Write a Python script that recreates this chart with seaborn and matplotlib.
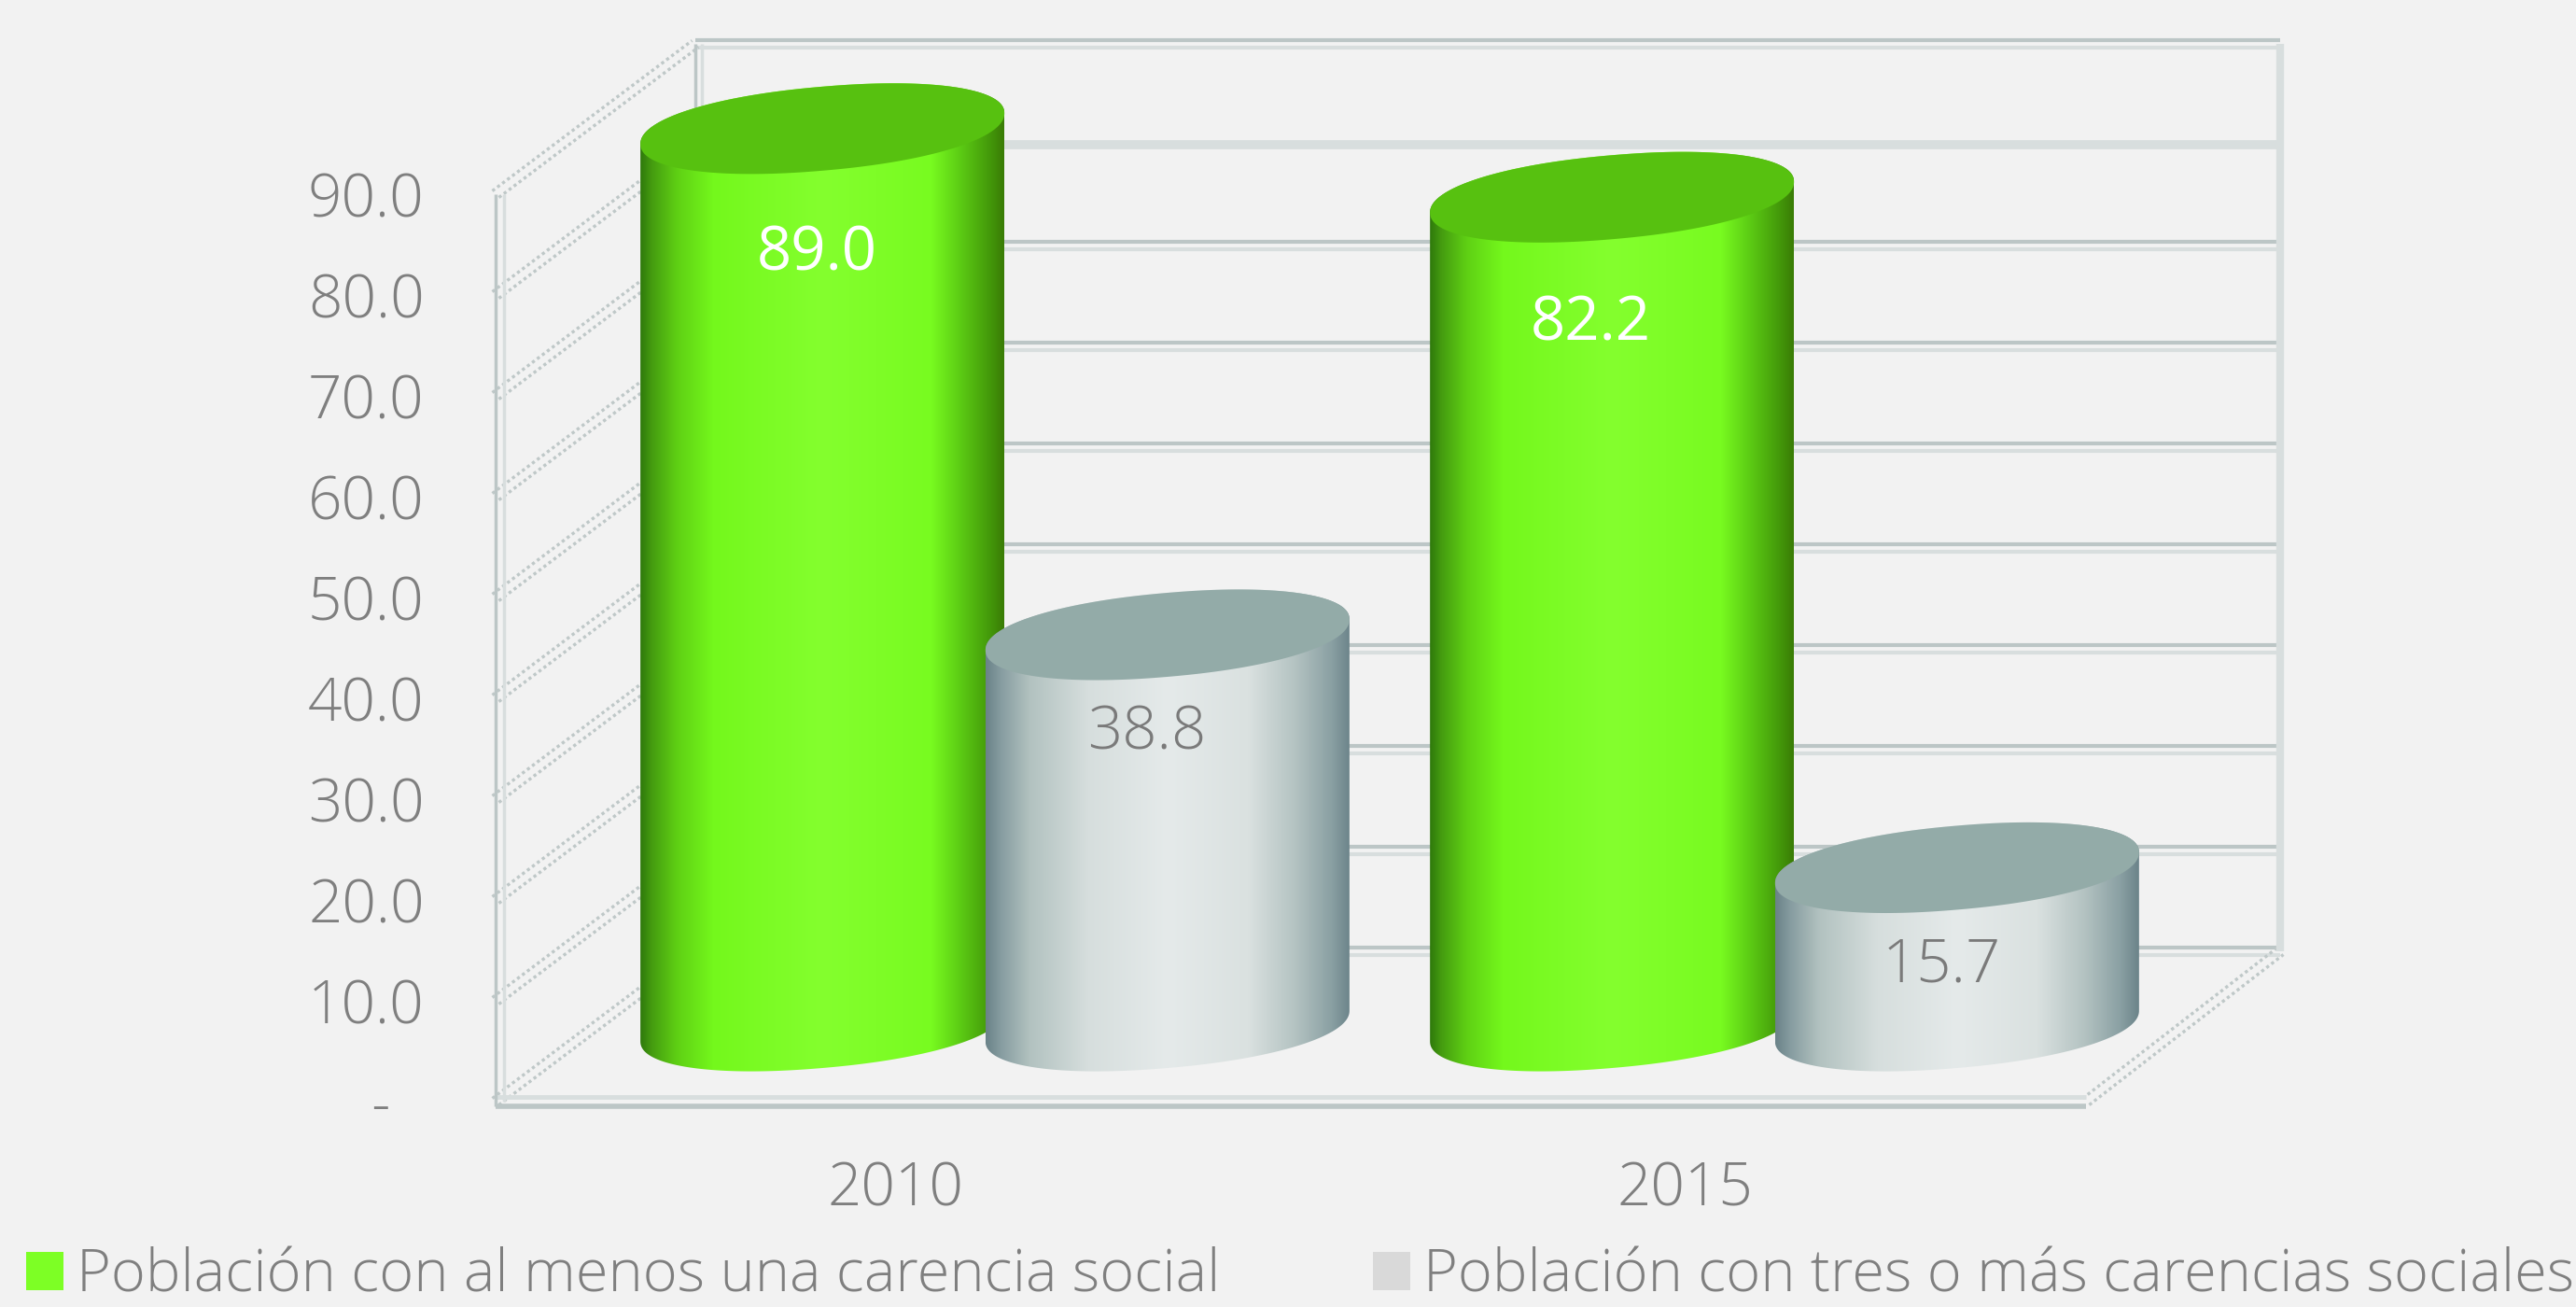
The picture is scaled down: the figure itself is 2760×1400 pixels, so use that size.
import numpy as np
import pandas as pd
import matplotlib
matplotlib.use("Agg")
import matplotlib.pyplot as plt
from matplotlib.colors import LinearSegmentedColormap
from matplotlib.patches import Polygon, Patch
from matplotlib.transforms import ScaledTranslation
import seaborn as sns

years = ["2010", "2015"]
series_names = ["Población con al menos una carencia social",
                "Población con tres o más carencias sociales"]
values_any = [89.0, 82.2]
values_three = [38.8, 15.7]
y_ticks = [0, 10, 20, 30, 40, 50, 60, 70, 80, 90]
y_tick_labels = ["-", "10.0", "20.0", "30.0", "40.0", "50.0", "60.0", "70.0", "80.0", "90.0"]

BG = "#f2f2f2"
TEXT = "#7f7f7f"
sns.set_theme(style="white")
plt.rcParams["font.family"] = ["Open Sans", "DejaVu Sans"]
plt.rcParams["font.weight"] = "light"

W, H = 2760, 1400
fig = plt.figure(figsize=(W / 100, H / 100), dpi=100, facecolor=BG)

def axes_box(x0, x1, y_top, y_bot):
    return [x0 / W, 1 - y_bot / H, (x1 - x0) / W, (y_bot - y_top) / H]

# ---- front axes: frame, walls, ticks
PX_X = 846.0
PX_Y = 10.8
front = fig.add_axes(axes_box(531, 2235, 208, 1180), facecolor="none", zorder=1)
front.set_xlim(-0.506, 1.508)
front.set_ylim(0, 90)
front.set_xticks([0, 1], years)
front.set_yticks(y_ticks, y_tick_labels)
front.tick_params(axis="y", length=0, pad=55, labelsize=46, labelcolor=TEXT)
front.tick_params(axis="x", length=0, pad=45, labelsize=46, labelcolor=TEXT)
sns.despine(ax=front, left=True, bottom=True, right=True, top=True)
zero_label = front.get_yticklabels()[0]
zero_label.set_transform(zero_label.get_transform() + ScaledTranslation(-37 / 100, 0, fig.dpi_scale_trans))

xl, xr = -0.506, 1.508
dx, dy = 214 / PX_X, 161 / PX_Y
xr_back = xr + 208 / PX_X
DARK, MID, LIGHT = "#bcc6c6", "#ccd4d4", "#d8dede"
DOT = "#bfc8c8"

def hline(x0, x1, v, color, lw):
    front.plot([x0, x1], [v, v], color=color, lw=lw, clip_on=False, solid_capstyle="butt")

def vline(x, v0, v1, color, lw):
    front.plot([x, x], [v0, v1], color=color, lw=lw, clip_on=False, solid_capstyle="butt")

for v in y_ticks:
    yy = v + dy
    if v == 80:
        hline(xl + dx, xr_back, yy, LIGHT, 7)
    else:
        hline(xl + dx, xr_back, yy + 4 / PX_Y, DARK, 3)
        hline(xl + dx, xr_back, yy - 4 / PX_Y, LIGHT, 3)
    for off in (-3.5, 3.5):
        front.plot([xl + off / PX_X, xl + dx + off / PX_X],
                   [v - off / PX_Y, yy - off / PX_Y],
                   color=DOT, lw=2.4, ls=(0, (1, 1)), clip_on=False)

for off in (-3.5, 3.5):
    front.plot([xr + off / PX_X, xr_back + off / PX_X],
               [0 - off / PX_Y, dy - off / PX_Y],
               color=DOT, lw=2.4, ls=(0, (1, 1)), clip_on=False)
hline(xl, xr, 5 / PX_Y, LIGHT, 3.5)
hline(xl, xr, -4.5 / PX_Y, DARK, 4)
vline(xl, -4.5 / PX_Y, 90, DARK, 2.5)
vline(xl + 9 / PX_X, 0, 90, LIGHT, 2.5)
vline(xl + dx, dy, 90 + dy, DARK, 2.5)
vline(xl + dx + 7 / PX_X, dy, 90 + dy, LIGHT, 2.5)
vline(xr_back, dy, 90 + dy, LIGHT, 6)

# ---- bars axes: covers the whole figure, data scale shared with the bars
bars = fig.add_axes([0, 0, 1, 1], facecolor="none", zorder=2)
df = pd.DataFrame({
    "year": years * 2,
    "serie": [series_names[0]] * 2 + [series_names[1]] * 2,
    "value": values_any + values_three,
})
sns.barplot(data=df, x="year", y="value", hue="serie", order=years, hue_order=series_names,
            palette=["#7dff25", "#e0e6e6"], width=0.874, gap=0, dodge=True, legend=False, ax=bars)
bars.set_xlim((0 - 1066) / PX_X, (W - 1066) / PX_X)
bars.set_ylim((1099 - H) / PX_Y, 1099 / PX_Y)
bars.axis("off")

cmap_green = LinearSegmentedColormap.from_list("g", [
    (0.0, "#2f7a0c"), (0.03, "#459c10"), (0.1, "#5fd014"), (0.2, "#74f81c"),
    (0.5, "#84ff2e"), (0.8, "#78fb20"), (0.88, "#5ccc14"), (0.96, "#449a0a"), (1.0, "#3a7d06")])
cmap_grey = LinearSegmentedColormap.from_list("s", [
    (0.0, "#6b8389"), (0.04, "#869ca0"), (0.12, "#b2c2c0"), (0.28, "#d6dedd"),
    (0.5, "#e5eaea"), (0.72, "#dae1e0"), (0.85, "#b4c3c2"), (0.95, "#8aa0a3"), (1.0, "#6c848a")])
TOPS = ["#57c110", "#93aba8"]
CMAPS = [cmap_green, cmap_grey]

A, B, TILT, N = 195.0, 45.0, 16.5, 2.15

def ell(cx, v, t):
    c, s = np.cos(t), np.sin(t)
    ux = np.sign(c) * np.abs(c) ** (2 / N)
    uy = np.sign(s) * np.abs(s) ** (2 / N)
    ex = A * ux
    ey = B * uy + TILT * ux
    return np.column_stack([cx + ex / PX_X, v + ey / PX_Y])

label_off = [(-6, -135), (-23, -136), (-22, -106), (-17, -106)]
label_col = ["white", "white", "#7a7a7a", "#7a7a7a"]
label_weight = ["normal", "normal", "light", "light"]
patches = list(bars.patches)
rows = []
for p, lo, lc, lw_ in zip(patches, label_off, label_col, label_weight):
    rows.append((p.get_x() + p.get_width() / 2, p.get_height(), lo, lc, lw_))
    p.set_facecolor("none")
    p.set_edgecolor("none")
idx_by_pos = sorted(range(4), key=lambda i: rows[i][0])
series_of = [0, 0, 1, 1]
z = 3
for i in idx_by_pos:
    cx, v, lo, lc, lw_ = rows[i]
    s = series_of[i]
    tb = np.linspace(np.pi, 2 * np.pi, 120)
    tt = np.linspace(0, np.pi, 120)
    body = np.vstack([ell(cx, 0, tb), ell(cx, v, tt)])
    poly = Polygon(body, closed=True, transform=bars.transData, facecolor="none", edgecolor="none")
    bars.add_patch(poly)
    grad = np.linspace(0, 1, 256)[None, :]
    im = bars.imshow(grad, cmap=CMAPS[s], aspect="auto", zorder=z, interpolation="bilinear",
                     extent=[cx - A / PX_X, cx + A / PX_X, -6, v + 6])
    im.set_clip_path(poly)
    top = Polygon(ell(cx, v, np.linspace(0, 2 * np.pi, 300)), closed=True,
                  facecolor=TOPS[s], edgecolor="none", zorder=z + 0.5)
    bars.add_patch(top)
    bars.annotate(f"{v:.1f}", xy=(cx, v), xytext=(lo[0] * 0.72, lo[1] * 0.72),
                  textcoords="offset points", ha="center", va="center",
                  fontsize=47, color=lc, fontweight=lw_, zorder=z + 0.6)
    z += 1
bars.set_xlim((0 - 1066) / PX_X, (W - 1066) / PX_X)
bars.set_ylim((1099 - H) / PX_Y, 1099 / PX_Y)

# ---- legend
FS = 45.5
handles = [Patch(facecolor="#7dff25", edgecolor="none"), Patch(facecolor="#d9d9d9", edgecolor="none")]
fig.legend(handles, series_names, loc="lower left", bbox_to_anchor=(28 / W, 1 / H), ncol=2,
           frameon=False, fontsize=FS, labelcolor=TEXT, borderpad=0, borderaxespad=0,
           handlelength=0.63, handleheight=0.63, handletextpad=0.22, columnspacing=2.6)

fig.savefig("out.png", dpi=100, facecolor=BG)
